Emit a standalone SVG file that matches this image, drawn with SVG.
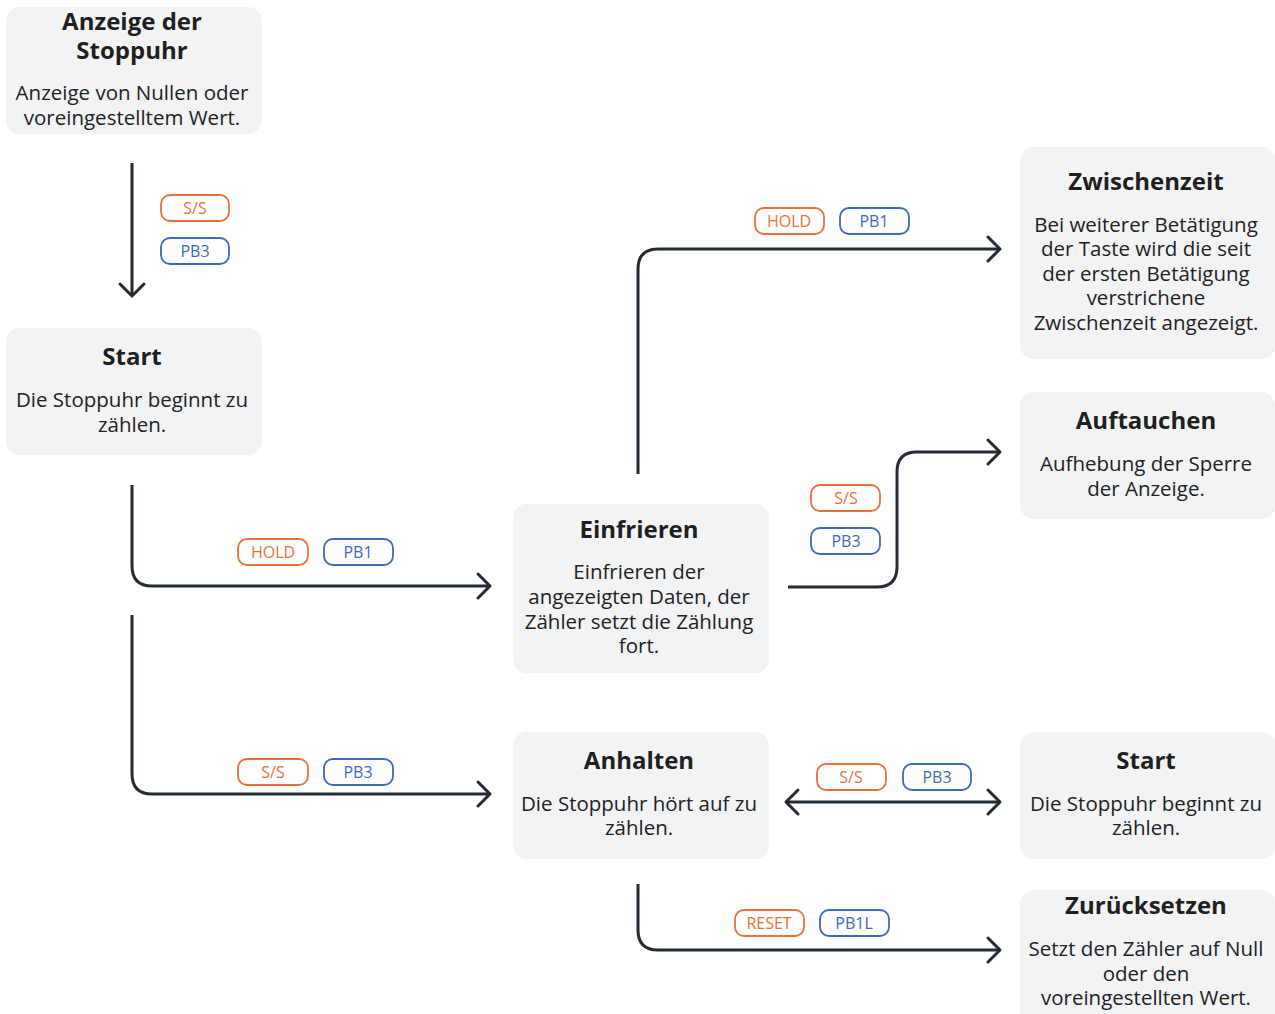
<svg xmlns="http://www.w3.org/2000/svg" width="1275" height="1014" viewBox="0 0 1275 1014">
<defs>
<style>
.box{fill:#f2f3f5;}
.t{font-family:"Open Sans","DejaVu Sans",sans-serif;font-weight:700;font-size:24px;fill:#1f1f1f;text-anchor:middle;}
.b{font-family:"Open Sans","DejaVu Sans",sans-serif;font-size:20.5px;fill:#222;text-anchor:middle;}
.c{fill:none;stroke:#252b35;stroke-width:3;stroke-linejoin:round;}
.po{fill:#fff;stroke:#e8703a;stroke-width:1.8;}
.pb{fill:#fff;stroke:#3d6bb8;stroke-width:1.8;}
.lo{font-family:"Open Sans","DejaVu Sans",sans-serif;font-size:16px;fill:#e8703a;text-anchor:middle;}
.lb{font-family:"Open Sans","DejaVu Sans",sans-serif;font-size:16px;fill:#3d6bb8;text-anchor:middle;}
</style>
<marker id="ah" markerUnits="userSpaceOnUse" viewBox="-15 -15 18 30" markerWidth="18" markerHeight="30" refX="0" refY="0" orient="auto-start-reverse" overflow="visible">
<path d="M-12,-12 L0,0 L-12,12" fill="none" stroke="#252b35" stroke-width="3" stroke-linecap="round" stroke-linejoin="round"/>
</marker>
</defs>
<rect width="1275" height="1014" fill="#fff"/>

<g id="connectors">
<path class="c" d="M132,163 V296" marker-end="url(#ah)"/>
<path class="c" d="M132,485 V566 Q132,586 152,586 H490" marker-end="url(#ah)"/>
<path class="c" d="M132,615 V774 Q132,794 152,794 H490" marker-end="url(#ah)"/>
<path class="c" d="M638,474 V269 Q638,249 658,249 H1000" marker-end="url(#ah)"/>
<path class="c" d="M788,587 H877 Q897,587 897,567 V472 Q897,452 917,452 H1000" marker-end="url(#ah)"/>
<path class="c" d="M786,802 H1000" marker-start="url(#ah)" marker-end="url(#ah)"/>
<path class="c" d="M638,884 V930 Q638,950 658,950 H1000" marker-end="url(#ah)"/>
</g>

<g id="labels">
<rect class="po" x="161" y="195" width="68" height="26" rx="9"/><text class="lo" x="195" y="214">S/S</text>
<rect class="pb" x="161" y="238" width="68" height="26" rx="9"/><text class="lb" x="195" y="257">PB3</text>
<rect class="po" x="238" y="539" width="70" height="26" rx="9"/><text class="lo" x="273" y="558">HOLD</text>
<rect class="pb" x="324" y="539" width="69" height="26" rx="9"/><text class="lb" x="358" y="558">PB1</text>
<rect class="po" x="238" y="759" width="70" height="26" rx="9"/><text class="lo" x="273" y="778">S/S</text>
<rect class="pb" x="324" y="759" width="69" height="26" rx="9"/><text class="lb" x="358" y="778">PB3</text>
<rect class="po" x="755" y="208" width="69" height="26" rx="9"/><text class="lo" x="789" y="227">HOLD</text>
<rect class="pb" x="840" y="208" width="69" height="26" rx="9"/><text class="lb" x="874" y="227">PB1</text>
<rect class="po" x="811" y="485" width="69" height="26" rx="9"/><text class="lo" x="846" y="504">S/S</text>
<rect class="pb" x="811" y="528" width="69" height="26" rx="9"/><text class="lb" x="846" y="547">PB3</text>
<rect class="po" x="817" y="764" width="69" height="26" rx="9"/><text class="lo" x="851" y="783">S/S</text>
<rect class="pb" x="903" y="764" width="68" height="26" rx="9"/><text class="lb" x="937" y="783">PB3</text>
<rect class="po" x="735" y="910" width="69" height="26" rx="9"/><text class="lo" x="769" y="929">RESET</text>
<rect class="pb" x="820" y="910" width="69" height="26" rx="9"/><text class="lb" x="854" y="929">PB1L</text>
</g>

<g id="n1">
<rect class="box" x="6" y="7" width="256" height="127" rx="14"/>
<text class="t" x="132" y="30">Anzeige der</text>
<text class="t" x="132" y="59">Stoppuhr</text>
<text class="b" x="132" y="100">Anzeige von Nullen oder</text>
<text class="b" x="132" y="125">voreingestelltem Wert.</text>
</g>
<g id="n2">
<rect class="box" x="6" y="328" width="256" height="127" rx="14"/>
<text class="t" x="132" y="365">Start</text>
<text class="b" x="132" y="407">Die Stoppuhr beginnt zu</text>
<text class="b" x="132" y="432">zählen.</text>
</g>
<g id="n3">
<rect class="box" x="513" y="504" width="256" height="169" rx="14"/>
<text class="t" x="639" y="538">Einfrieren</text>
<text class="b" x="639" y="579">Einfrieren der</text>
<text class="b" x="639" y="604">angezeigten Daten, der</text>
<text class="b" x="639" y="629">Zähler setzt die Zählung</text>
<text class="b" x="639" y="653">fort.</text>
</g>
<g id="n4">
<rect class="box" x="513" y="732" width="256" height="127" rx="14"/>
<text class="t" x="639" y="769">Anhalten</text>
<text class="b" x="639" y="811">Die Stoppuhr hört auf zu</text>
<text class="b" x="639" y="835">zählen.</text>
</g>
<g id="n5">
<rect class="box" x="1020" y="147" width="255" height="212" rx="14"/>
<text class="t" x="1146" y="190">Zwischenzeit</text>
<text class="b" x="1146" y="232">Bei weiterer Betätigung</text>
<text class="b" x="1146" y="256">der Taste wird die seit</text>
<text class="b" x="1146" y="281">der ersten Betätigung</text>
<text class="b" x="1146" y="305">verstrichene</text>
<text class="b" x="1146" y="330">Zwischenzeit angezeigt.</text>
</g>
<g id="n6">
<rect class="box" x="1020" y="392" width="255" height="127" rx="14"/>
<text class="t" x="1146" y="429">Auftauchen</text>
<text class="b" x="1146" y="471">Aufhebung der Sperre</text>
<text class="b" x="1146" y="496">der Anzeige.</text>
</g>
<g id="n7">
<rect class="box" x="1020" y="732" width="255" height="127" rx="14"/>
<text class="t" x="1146" y="769">Start</text>
<text class="b" x="1146" y="811">Die Stoppuhr beginnt zu</text>
<text class="b" x="1146" y="835">zählen.</text>
</g>
<g id="n8">
<rect class="box" x="1020" y="890" width="255" height="140" rx="14"/>
<text class="t" x="1146" y="914">Zurücksetzen</text>
<text class="b" x="1146" y="956">Setzt den Zähler auf Null</text>
<text class="b" x="1146" y="981">oder den</text>
<text class="b" x="1146" y="1005">voreingestellten Wert.</text>
</g>
</svg>
